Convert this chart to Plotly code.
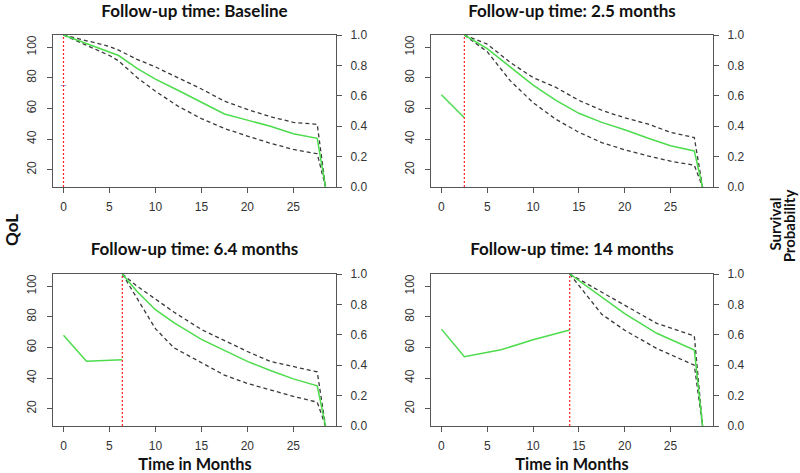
import plotly.graph_objects as go

# ---------------- data ----------------
titles = ["Follow-up time: Baseline", "Follow-up time: 2.5 months",
          "Follow-up time: 6.4 months", "Follow-up time: 14 months"]
followup_times = [0, 2.5, 6.4, 14]

x_ticks = [0, 5, 10, 15, 20, 25]
qol_ticks = [20, 40, 60, 80, 100]
surv_ticks = [0.0, 0.2, 0.4, 0.6, 0.8, 1.0]
surv_tick_labels = ["0.0", "0.2", "0.4", "0.6", "0.8", "1.0"]

# Panel 1 : baseline
p1_qol_time = [0]
p1_qol = [75]
p1_surv_time = [0, 2.5, 5, 6, 8, 10, 12.5, 15, 17.5, 20, 22.5, 25, 27.6, 28.5]
p1_surv_mean = [1.0, 0.945, 0.89, 0.865, 0.78, 0.71, 0.635, 0.555, 0.48, 0.44, 0.40, 0.35, 0.32, 0.0]
p1_surv_upper = [1.0, 0.96, 0.925, 0.90, 0.84, 0.79, 0.72, 0.645, 0.565, 0.51, 0.463, 0.425, 0.412, 0.0]
p1_surv_lower = [1.0, 0.93, 0.865, 0.83, 0.72, 0.63, 0.53, 0.45, 0.385, 0.335, 0.288, 0.247, 0.219, 0.0]

# Panel 2 : 2.5 months
p2_qol_time = [0, 2.5]
p2_qol = [69, 54]
p2_surv_time = [2.5, 5, 7.5, 10, 12.5, 15, 17.5, 20, 22.5, 25, 27.6, 28.5]
p2_surv_mean = [1.0, 0.91, 0.79, 0.67, 0.57, 0.485, 0.425, 0.377, 0.322, 0.272, 0.237, 0.0]
p2_surv_upper = [1.0, 0.94, 0.82, 0.72, 0.655, 0.57, 0.505, 0.455, 0.415, 0.36, 0.325, 0.0]
p2_surv_lower = [1.0, 0.89, 0.70, 0.555, 0.445, 0.36, 0.292, 0.245, 0.205, 0.17, 0.143, 0.0]

# Panel 3 : 6.4 months
p3_qol_time = [0, 2.5, 6.4]
p3_qol = [68, 51, 52]
p3_surv_time = [6.4, 8, 10, 12, 15, 17.5, 20, 22.5, 25, 27.6, 28.5]
p3_surv_mean = [1.0, 0.885, 0.765, 0.68, 0.57, 0.495, 0.425, 0.365, 0.31, 0.264, 0.0]
p3_surv_upper = [1.0, 0.92, 0.835, 0.75, 0.635, 0.56, 0.49, 0.425, 0.39, 0.356, 0.0]
p3_surv_lower = [1.0, 0.84, 0.64, 0.515, 0.415, 0.335, 0.28, 0.237, 0.195, 0.157, 0.0]

# Panel 4 : 14 months
p4_qol_time = [0, 2.5, 6.5, 10, 14]
p4_qol = [72, 54, 58.5, 65, 71.4]
p4_surv_time = [14, 17.5, 20, 23.5, 27.6, 28.5]
p4_surv_mean = [1.0, 0.845, 0.74, 0.61, 0.50, 0.0]
p4_surv_upper = [1.0, 0.88, 0.79, 0.675, 0.593, 0.0]
p4_surv_lower = [1.0, 0.735, 0.63, 0.51, 0.40, 0.0]

panels = [
    (p1_qol_time, p1_qol, p1_surv_time, p1_surv_mean, p1_surv_upper, p1_surv_lower),
    (p2_qol_time, p2_qol, p2_surv_time, p2_surv_mean, p2_surv_upper, p2_surv_lower),
    (p3_qol_time, p3_qol, p3_surv_time, p3_surv_mean, p3_surv_upper, p3_surv_lower),
    (p4_qol_time, p4_qol, p4_surv_time, p4_surv_mean, p4_surv_upper, p4_surv_lower),
]

# ---------------- layout geometry (pixels) ----------------
W, H = 800, 473
boxes = [(53, 336, 35, 187), (431, 713, 35, 187), (53, 336, 274, 426), (431, 713, 274, 426)]
title_centers_y = [10.5, 10.5, 248, 248]

GREEN = "#4ddc4d"
DASH = "#3a3a3a"
AXC = "#555555"
TICKFONT = dict(family="Liberation Sans", size=12, color="#333333")


def lab_font(size):
    return dict(family="Lato", size=size, color="#111111", weight="bold")


def text_box(text, cx, cy, w, h, size, angle=0):
    # invisible rectangle carrying a text label (does not push margins)
    return dict(type="rect", xref="paper", yref="paper",
                x0=(cx - w / 2) / W, x1=(cx + w / 2) / W,
                y0=1 - (cy + h / 2) / H, y1=1 - (cy - h / 2) / H,
                line=dict(width=0), fillcolor="rgba(0,0,0,0)", layer="above",
                label=dict(text=text, textposition="middle center", textangle=angle,
                           font=lab_font(size)))


fig = go.Figure()
layout = dict(width=W, height=H, margin=dict(l=0, r=0, t=0, b=0, autoexpand=False),
              paper_bgcolor="white", plot_bgcolor="white", showlegend=False)

shapes = []
for i, (box, data, ft, title) in enumerate(zip(boxes, panels, followup_times, titles)):
    k = i + 1
    xl, xr, yt, yb = box
    xdom = [xl / W, xr / W]
    ydom = [1 - yb / H, 1 - yt / H]
    xa = "x" if k == 1 else f"x{k}"
    yl_idx = 2 * k - 1
    yr_idx = 2 * k
    yl = "y" if yl_idx == 1 else f"y{yl_idx}"
    yr = f"y{yr_idx}"

    layout["xaxis" if k == 1 else f"xaxis{k}"] = dict(
        domain=xdom, anchor=yl, range=[-1.14, 29.64], tickvals=x_ticks,
        ticks="outside", ticklen=5, tickcolor=AXC, tickwidth=1,
        showline=True, linecolor=AXC, linewidth=1, mirror=True,
        showgrid=False, zeroline=False, tickfont=TICKFONT, ticklabelstandoff=4)
    layout["yaxis" if yl_idx == 1 else f"yaxis{yl_idx}"] = dict(
        domain=ydom, anchor=xa, range=[8.7, 108], tickvals=qol_ticks,
        ticks="outside", ticklen=5, tickcolor=AXC, tickwidth=1, tickangle=-90,
        showline=True, linecolor=AXC, linewidth=1, mirror=True,
        showgrid=False, zeroline=False, tickfont=TICKFONT, ticklabelstandoff=6)
    layout[f"yaxis{yr_idx}"] = dict(
        domain=ydom, anchor=xa, overlaying=yl, side="right", range=[0, 1],
        tickvals=surv_ticks, ticktext=surv_tick_labels,
        ticks="outside", ticklen=5, tickcolor=AXC, tickwidth=1,
        showline=False, showgrid=False, zeroline=False, tickfont=TICKFONT,
        ticklabelstandoff=6)

    qt, qv, st, sm, su, sl = data
    if len(qt) > 1:
        fig.add_trace(go.Scatter(x=qt, y=qv, mode="lines", xaxis=xa, yaxis=yl,
                                 line=dict(color=GREEN, width=1.5)))
    else:
        fig.add_trace(go.Scatter(x=qt, y=qv, mode="markers", xaxis=xa, yaxis=yl,
                                 marker=dict(symbol="line-ew", size=4,
                                             line=dict(color="#8aa8ee", width=1))))
    fig.add_trace(go.Scatter(x=[ft, ft], y=[surv_ticks[0], surv_ticks[-1]], mode="lines",
                             xaxis=xa, yaxis=yr,
                             line=dict(color="#ff2020", width=1.2, dash="2px,2px")))
    for arr in (su, sl):
        fig.add_trace(go.Scatter(x=st, y=arr, mode="lines", xaxis=xa, yaxis=yr,
                                 line=dict(color=DASH, width=1.3, dash="4px,3px")))
    fig.add_trace(go.Scatter(x=st, y=sm, mode="lines", xaxis=xa, yaxis=yr,
                             line=dict(color=GREEN, width=1.5)))

    shapes.append(text_box(title, (xl + xr) / 2, title_centers_y[i], xr - xl, 14, 17))

for xc in (195, 572):
    shapes.append(text_box("Time in Months", xc, 463, 200, 12, 16.3))
shapes.append(text_box("QoL", 11, 230, 14, 60, 17, angle=-90))
shapes.append(text_box("Survival", 775, 224, 14, 80, 15, angle=-90))
shapes.append(text_box("Probability", 789, 226, 14, 90, 15, angle=-90))

layout["shapes"] = shapes
fig.update_layout(**layout)

pin_js = (
    "document.documentElement.style.margin='0';"
    "document.documentElement.style.overflow='hidden';"
    "document.body.style.margin='0';document.body.style.padding='0';"
    "document.body.style.overflow='hidden';"
    "var gd=document.getElementsByClassName('plotly-graph-div')[0];"
    "gd.style.position='fixed';gd.style.left='0px';gd.style.top='0px';"
)
fig.write_html("out.html", config={"displayModeBar": False}, post_script=pin_js)
